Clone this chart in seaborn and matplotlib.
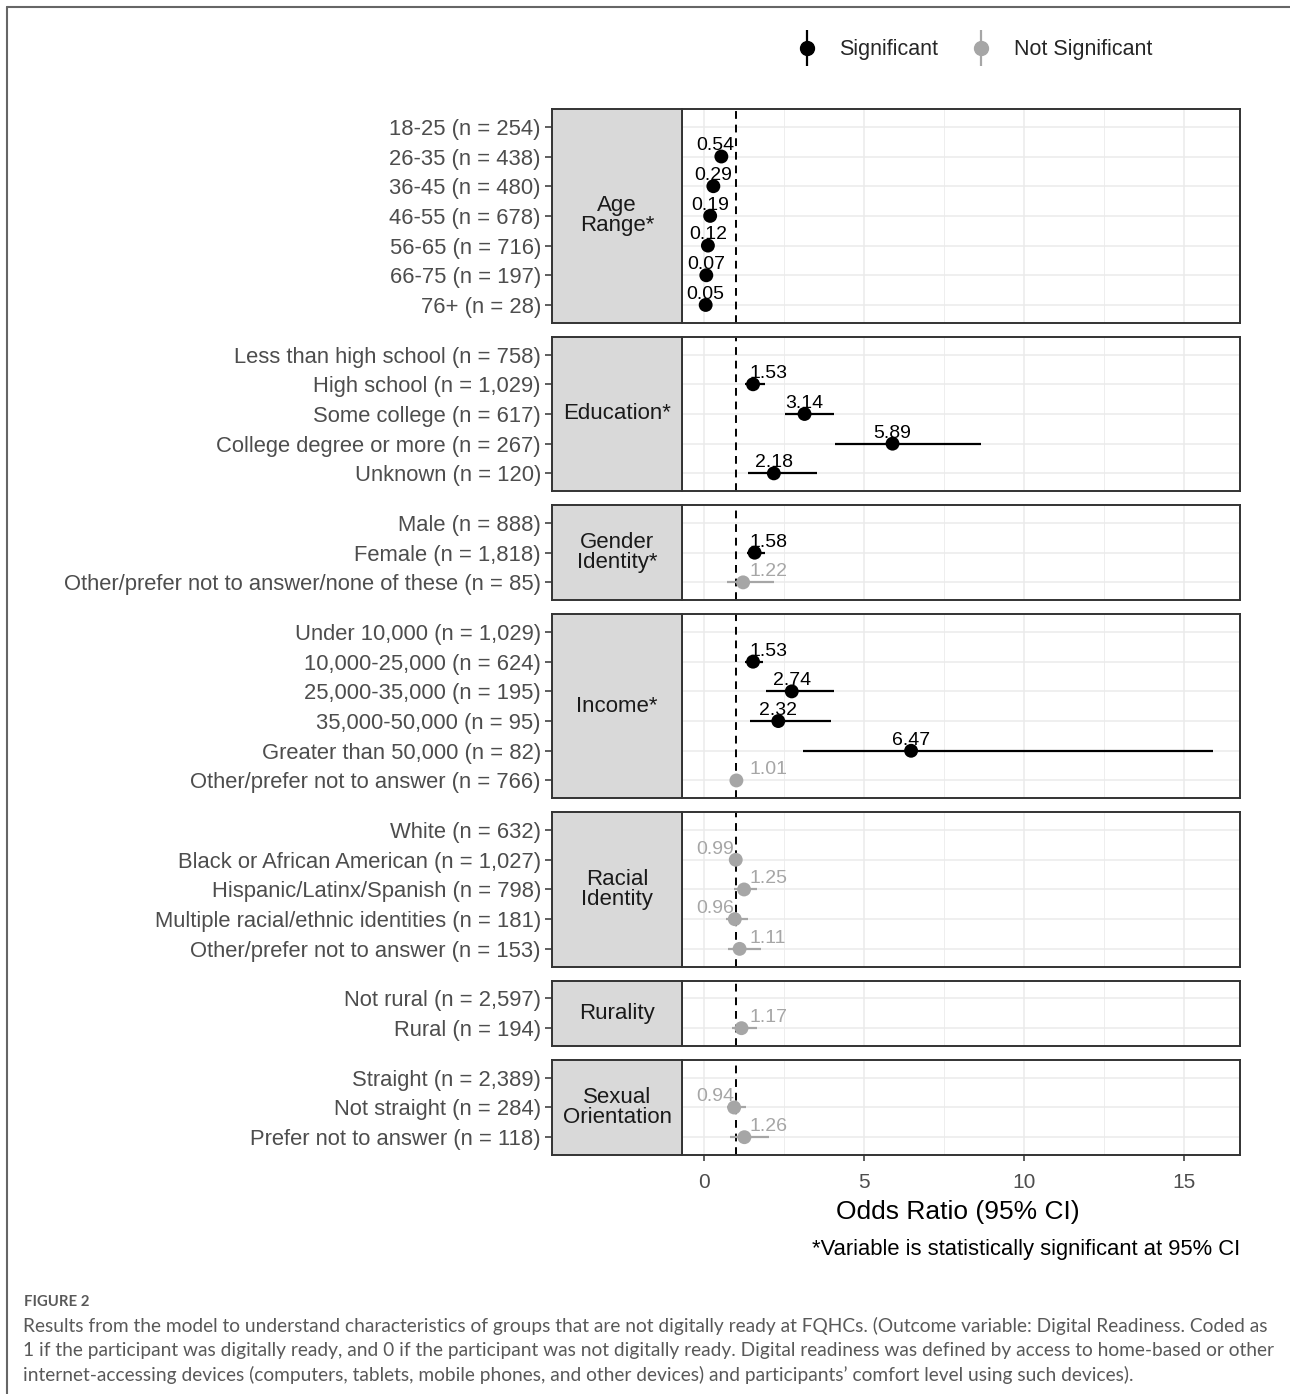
import numpy as np
import pandas as pd
import matplotlib
matplotlib.use("Agg")
import matplotlib.pyplot as plt
import seaborn as sns
from matplotlib.lines import Line2D
from matplotlib.legend_handler import HandlerTuple

# ---- datos ----
grupos = ["Age\nRange*", "Education*", "Gender\nIdentity*", "Income*",
          "Racial\nIdentity", "Rurality", "Sexual\nOrientation"]

cat_edad = ["18-25 (n = 254)", "26-35 (n = 438)", "36-45 (n = 480)", "46-55 (n = 678)",
            "56-65 (n = 716)", "66-75 (n = 197)", "76+ (n = 28)"]
or_edad = [np.nan, 0.54, 0.29, 0.19, 0.12, 0.07, 0.05]
lo_edad = [np.nan, 0.42, 0.22, 0.15, 0.09, 0.05, 0.02]
hi_edad = [np.nan, 0.70, 0.38, 0.25, 0.16, 0.10, 0.10]

cat_educ = ["Less than high school (n = 758)", "High school (n = 1,029)",
            "Some college (n = 617)", "College degree or more (n = 267)", "Unknown (n = 120)"]
or_educ = [np.nan, 1.53, 3.14, 5.89, 2.18]
lo_educ = [np.nan, 1.28, 2.53, 4.09, 1.38]
hi_educ = [np.nan, 1.90, 4.06, 8.66, 3.53]

cat_gen = ["Male (n = 888)", "Female (n = 1,818)",
           "Other/prefer not to answer/none of these (n = 85)"]
or_gen = [np.nan, 1.58, 1.22]
lo_gen = [np.nan, 1.34, 0.72]
hi_gen = [np.nan, 1.90, 2.20]

cat_ing = ["Under 10,000 (n = 1,029)", "10,000-25,000 (n = 624)", "25,000-35,000 (n = 195)",
           "35,000-50,000 (n = 95)", "Greater than 50,000 (n = 82)",
           "Other/prefer not to answer (n = 766)"]
or_ing = [np.nan, 1.53, 2.74, 2.32, 6.47, 1.01]
lo_ing = [np.nan, 1.28, 1.94, 1.44, 3.09, 0.85]
hi_ing = [np.nan, 1.85, 4.06, 3.97, 15.90, 1.20]

cat_raza = ["White (n = 632)", "Black or African American (n = 1,027)",
            "Hispanic/Latinx/Spanish (n = 798)", "Multiple racial/ethnic identities (n = 181)",
            "Other/prefer not to answer (n = 153)"]
or_raza = [np.nan, 0.99, 1.25, 0.96, 1.11]
lo_raza = [np.nan, 0.82, 0.95, 0.68, 0.75]
hi_raza = [np.nan, 1.19, 1.65, 1.38, 1.78]

cat_rur = ["Not rural (n = 2,597)", "Rural (n = 194)"]
or_rur = [np.nan, 1.17]
lo_rur = [np.nan, 0.87]
hi_rur = [np.nan, 1.65]

cat_sex = ["Straight (n = 2,389)", "Not straight (n = 284)", "Prefer not to answer (n = 118)"]
or_sex = [np.nan, 0.94, 1.26]
lo_sex = [np.nan, 0.72, 0.81]
hi_sex = [np.nan, 1.30, 2.03]

datos = [
    (cat_edad, or_edad, lo_edad, hi_edad),
    (cat_educ, or_educ, lo_educ, hi_educ),
    (cat_gen, or_gen, lo_gen, hi_gen),
    (cat_ing, or_ing, lo_ing, hi_ing),
    (cat_raza, or_raza, lo_raza, hi_raza),
    (cat_rur, or_rur, lo_rur, hi_rur),
    (cat_sex, or_sex, lo_sex, hi_sex),
]

COLORES = {"Significant": "black", "Not Significant": "#A6A6A6"}
GRIS_TXT = "#4D4D4D"
BORDE = "#333333"


def armar_df(cats, ors, los, his):
    df = pd.DataFrame({"cat": cats, "or": ors, "lo": los, "hi": his})
    df["pos"] = np.arange(len(df))
    df["sig"] = np.where((df["lo"] > 1) | (df["hi"] < 1), "Significant", "Not Significant")
    return df


def pos_etiqueta(v):
    # mover la etiqueta para que no pise la línea de referencia
    if v > 1:
        return max(v, 2.0)
    return min(v, 0.34)


sns.set_theme(style="white")
plt.rcParams["font.family"] = ["Liberation Sans", "DejaVu Sans"]

W, H = 1290, 1394
fig = plt.figure(figsize=(W / 100, H / 100), dpi=100)

# posiciones de paneles (px)
top_px, gap_px = 109, 14.0
unidades = [len(d[0]) + 0.2 for d in datos]
unit_px = (1155 - top_px - gap_px * (len(datos) - 1)) / sum(unidades)
panel_x0, panel_x1 = 682, 1240
strip_x0 = 552
XMIN, XMAX = -0.69, 16.75

y_px = top_px
for i, (grupo, d) in enumerate(zip(grupos, datos)):
    df = armar_df(*d)
    n = len(df)
    h_px = (n + 0.2) * unit_px
    bottom = 1 - (y_px + h_px) / H

    ax = fig.add_axes([panel_x0 / W, bottom, (panel_x1 - panel_x0) / W, h_px / H])
    ax_s = fig.add_axes([strip_x0 / W, bottom, (panel_x0 - strip_x0) / W, h_px / H])

    # panel principal
    ax.set_xlim(XMIN, XMAX)
    ax.set_ylim(n - 1 + 0.6, -0.6)
    ax.set_xticks([0, 5, 10, 15])
    ax.set_xticks([2.5, 7.5, 12.5], minor=True)
    ax.set_yticks(df["pos"])
    ax.grid(True, which="major", color="#EBEBEB", lw=1.1)
    ax.grid(True, which="minor", axis="x", color="#EBEBEB", lw=0.6)
    ax.set_axisbelow(True)
    ax.tick_params(axis="y", left=False, labelleft=False)
    for s in ax.spines.values():
        s.set_color(BORDE)
        s.set_linewidth(1.4)

    ax.axvline(1, color="black", lw=1.4, ls=(0, (4, 3)), zorder=2)

    pts = df.dropna(subset=["or"])
    for _, r in pts.iterrows():
        ax.hlines(r["pos"], r["lo"], r["hi"], color=COLORES[r["sig"]], lw=1.6, zorder=3)
    sns.scatterplot(data=pts, x="or", y="pos", hue="sig", palette=COLORES,
                    s=100, edgecolor="none", legend=False, ax=ax, zorder=4)
    for _, r in pts.iterrows():
        ax.annotate(f"{r['or']:.2f}", (pos_etiqueta(r["or"]), r["pos"]),
                    xytext=(0, 1.5), textcoords="offset points",
                    ha="center", va="bottom", fontsize=14,
                    color=COLORES[r["sig"]], zorder=5)
    ax.set_xlabel("")
    ax.set_ylabel("")

    if i == len(datos) - 1:
        ax.tick_params(axis="x", bottom=True, length=4, width=1.1, color=BORDE,
                       labelsize=15, labelcolor=GRIS_TXT, pad=9)
        ax.set_xticklabels(["0", "5", "10", "15"])
    else:
        ax.tick_params(axis="x", bottom=False, labelbottom=False)

    # tira gris con el nombre del grupo
    ax_s.set_facecolor("#D9D9D9")
    ax_s.set_xlim(0, 1)
    ax_s.set_ylim(n - 1 + 0.6, -0.6)
    ax_s.set_xticks([])
    ax_s.set_yticks(df["pos"])
    ax_s.set_yticklabels(df["cat"])
    ax_s.tick_params(axis="y", left=True, length=5, width=1.1, color=BORDE,
                     labelsize=15.8, labelcolor=GRIS_TXT, pad=3)
    ax_s.grid(False)
    for s in ax_s.spines.values():
        s.set_color(BORDE)
        s.set_linewidth(1.4)
    ax_s.text(0.5, (n - 1) / 2, grupo, ha="center", va="center", fontsize=16,
              color="#1A1A1A", linespacing=0.95)

    y_px += h_px + gap_px

# títulos del eje x
fig.text(958 / W, 1 - 1212 / H, "Odds Ratio (95% CI)", ha="center", va="center",
         fontsize=19, color="black")
fig.text(1240 / W, 1 - 1249 / H, "*Variable is statistically significant at 95% CI",
         ha="right", va="center", fontsize=15.8, color="black")

# leyenda
hnd = []
for lab in ["Significant", "Not Significant"]:
    c = COLORES[lab]
    hnd.append((Line2D([], [], color=c, marker="|", markersize=26, mew=1.6, ls="none"),
                Line2D([], [], color=c, marker="o", markersize=10, ls="none")))
fig.legend(hnd, ["Significant", "Not Significant"], ncol=2, frameon=False,
           loc="center", bbox_to_anchor=(973 / W, 1 - 50 / H), fontsize=15.5,
           handler_map={tuple: HandlerTuple(ndivide=1)}, handlelength=1.2,
           handletextpad=0.9, columnspacing=1.4)

# marco exterior
fig.add_artist(Line2D([7 / W, 1], [1 - 7 / H, 1 - 7 / H], color="#666666", lw=1.5))
fig.add_artist(Line2D([7 / W, 7 / W], [0, 1 - 7 / H], color="#666666", lw=1.5))

# pie de figura
fig.text(24 / W, 1 - 1302 / H, "FIGURE 2", ha="left", va="center", fontsize=10.7,
         color="#595959", family="Lato", weight="bold")
pie = ["Results from the model to understand characteristics of groups that are not digitally ready at FQHCs. (Outcome variable: Digital Readiness. Coded as",
       "1 if the participant was digitally ready, and 0 if the participant was not digitally ready. Digital readiness was defined by access to home-based or other",
       "internet-accessing devices (computers, tablets, mobile phones, and other devices) and participants\u2019 comfort level using such devices)."]
for k, linea in enumerate(pie):
    fig.text(23 / W, 1 - (1326 + 24.5 * k) / H, linea, ha="left", va="center",
             fontsize=13.8, color="#595959", family="Lato")

fig.savefig("out.png", dpi=100)
